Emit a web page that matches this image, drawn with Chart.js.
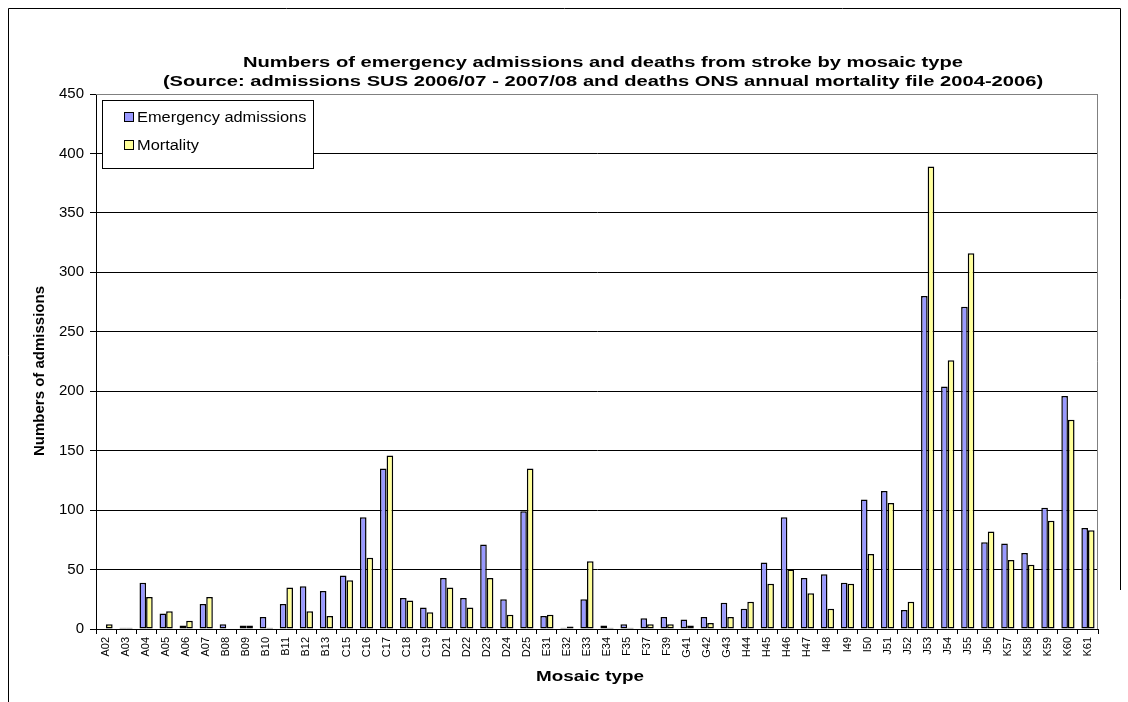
<!DOCTYPE html>
<html>
<head>
<meta charset="utf-8">
<script src="https://cdn.jsdelivr.net/npm/chart.js@4.4.1/dist/chart.umd.min.js"></script>
<style>
  html, body { margin: 0; padding: 0; background: #fff; }
  canvas { display: block; }
</style>
</head>
<body>
<canvas id="chart" width="1128" height="702"></canvas>
<script>
// Mosaic types along the x axis
const mosaicTypes = [
  'A02','A03','A04','A05','A06','A07','B08','B09','B10','B11',
  'B12','B13','C15','C16','C17','C18','C19','D21','D22','D23',
  'D24','D25','E31','E32','E33','E34','F35','F37','F39','G41',
  'G42','G43','H44','H45','H46','H47','I48','I49','I50','J51',
  'J52','J53','J54','J55','J56','K57','K58','K59','K60','K61'
];

// Emergency stroke admissions, SUS 2006/07 - 2007/08
const emergencyAdmissions = [
  0, 1, 39, 13, 3, 21, 4, 3, 10, 21,
  36, 32, 45, 94, 135, 26, 18, 43, 26, 71,
  25, 99, 11, 1, 25, 3, 4, 9, 10, 8,
  10, 22, 17, 56, 94, 43, 46, 39, 109, 116,
  16, 280, 204, 271, 73, 72, 64, 102, 196, 85
];

// Stroke deaths, ONS annual mortality file 2004-2006
const mortality = [
  4, 1, 27, 15, 7, 27, 0, 3, 1, 35,
  15, 11, 41, 60, 146, 24, 14, 35, 18, 43,
  12, 135, 12, 2, 57, 1, 1, 4, 4, 3,
  5, 10, 23, 38, 50, 30, 17, 38, 63, 106,
  23, 389, 226, 316, 82, 58, 54, 91, 176, 83
];

const seriesNames = ['Emergency admissions', 'Mortality'];
const yAxisMax = 450;
const yAxisStep = 50;

const titleLines = [
  'Numbers of emergency admissions and deaths from stroke by mosaic type',
  '(Source: admissions SUS 2006/07 - 2007/08 and deaths ONS annual mortality file 2004-2006)'
];
const xAxisTitle = 'Mosaic type';
const yAxisTitle = 'Numbers of admissions';

const FONT = '"Liberation Sans", Arial, Helvetica, sans-serif';
const BLUE = '#9999FF';
const YELLOW = '#FFFF99';

const decorations = {
  id: 'decorations',
  beforeDraw(chart) {
    const ctx = chart.ctx;
    ctx.save();
    ctx.fillStyle = '#fff';
    ctx.fillRect(0, 0, chart.width, chart.height);
    // outer frame
    ctx.strokeStyle = '#000';
    ctx.lineWidth = 1;
    ctx.beginPath();
    ctx.moveTo(8.5, 702);
    ctx.lineTo(8.5, 8.5);
    ctx.lineTo(1120.5, 8.5);
    ctx.lineTo(1120.5, 590);
    ctx.stroke();
    ctx.restore();
  },
  afterDatasetsDraw(chart) {
    const ctx = chart.ctx;
    const a = chart.chartArea;
    ctx.save();
    // plot-area border on top and right
    ctx.strokeStyle = '#808080';
    ctx.lineWidth = 1;
    ctx.beginPath();
    ctx.moveTo(a.left, a.top + 0.5);
    ctx.lineTo(a.right - 0.5, a.top + 0.5);
    ctx.lineTo(a.right - 0.5, a.bottom);
    ctx.stroke();

    // titles (lettering drawn slightly broad)
    ctx.fillStyle = '#000';
    ctx.textAlign = 'center';
    ctx.textBaseline = 'middle';
    const sx = 1.3;
    ctx.font = 'bold 15.5px ' + FONT;
    [63, 82].forEach((y, i) => {
      ctx.save();
      ctx.translate(603, y);
      ctx.scale(sx, 1);
      ctx.fillText(titleLines[i], 0, 0);
      ctx.restore();
    });

    // x axis title
    ctx.save();
    ctx.font = 'bold 14.5px ' + FONT;
    ctx.translate(590, 677);
    ctx.scale(sx, 1);
    ctx.fillText(xAxisTitle, 0, 0);
    ctx.restore();

    // y axis title
    ctx.save();
    ctx.font = 'bold 15px ' + FONT;
    ctx.translate(40, 371);
    ctx.rotate(-Math.PI / 2);
    ctx.fillText(yAxisTitle, 0, 0);
    ctx.restore();

    // legend box
    const lx = 102.5, ly = 100.5, lw = 211, lh = 68;
    ctx.fillStyle = '#fff';
    ctx.fillRect(lx, ly, lw, lh);
    ctx.strokeStyle = '#000';
    ctx.strokeRect(lx, ly, lw, lh);
    const colors = [BLUE, YELLOW];
    [117, 145].forEach((y, i) => {
      ctx.fillStyle = colors[i];
      ctx.fillRect(124, y - 5, 10, 10);
      ctx.strokeStyle = '#000';
      ctx.strokeRect(124.5, y - 4.5, 9, 9);
      ctx.save();
      ctx.fillStyle = '#000';
      ctx.font = '14px ' + FONT;
      ctx.textAlign = 'left';
      ctx.translate(137, y + 1);
      ctx.scale(1.17, 1);
      ctx.fillText(seriesNames[i], 0, 0);
      ctx.restore();
    });
    ctx.restore();
  }
};

const barStyle = {
  borderColor: '#000',
  borderWidth: 1.5,
  borderSkipped: false,
  categoryPercentage: 0.66,
  barPercentage: 1.0
};

new Chart(document.getElementById('chart'), {
  type: 'bar',
  data: {
    labels: mosaicTypes,
    datasets: [
      Object.assign({ label: seriesNames[0], data: emergencyAdmissions, backgroundColor: BLUE }, barStyle),
      Object.assign({ label: seriesNames[1], data: mortality, backgroundColor: YELLOW }, barStyle)
    ]
  },
  options: {
    responsive: false,
    animation: false,
    devicePixelRatio: 1,
    layout: { padding: { top: 94, right: 30, bottom: 0, left: 0 } },
    plugins: {
      legend: { display: false },
      title: { display: false },
      tooltip: { enabled: false }
    },
    scales: {
      x: {
        grid: {
          offset: true,
          drawOnChartArea: false,
          drawTicks: true,
          tickLength: 5,
          color: '#000'
        },
        border: { color: '#000', width: 1 },
        ticks: {
          autoSkip: false,
          minRotation: 90,
          maxRotation: 90,
          padding: 3,
          color: '#000',
          font: { family: FONT, size: 11 }
        },
        afterFit(scale) { scale.height = 73; }
      },
      y: {
        min: 0,
        max: yAxisMax,
        grid: {
          color: (c) => (c.tick && c.tick.value === yAxisMax ? '#808080' : '#000'),
          tickColor: '#000',
          tickLength: 6,
          lineWidth: 1
        },
        border: { color: '#000', width: 1 },
        ticks: {
          stepSize: yAxisStep,
          padding: 6,
          color: '#000',
          font: { family: FONT, size: 15 }
        },
        afterFit(scale) { scale.width = 96; }
      }
    }
  },
  plugins: [decorations]
});
</script>
</body>
</html>
